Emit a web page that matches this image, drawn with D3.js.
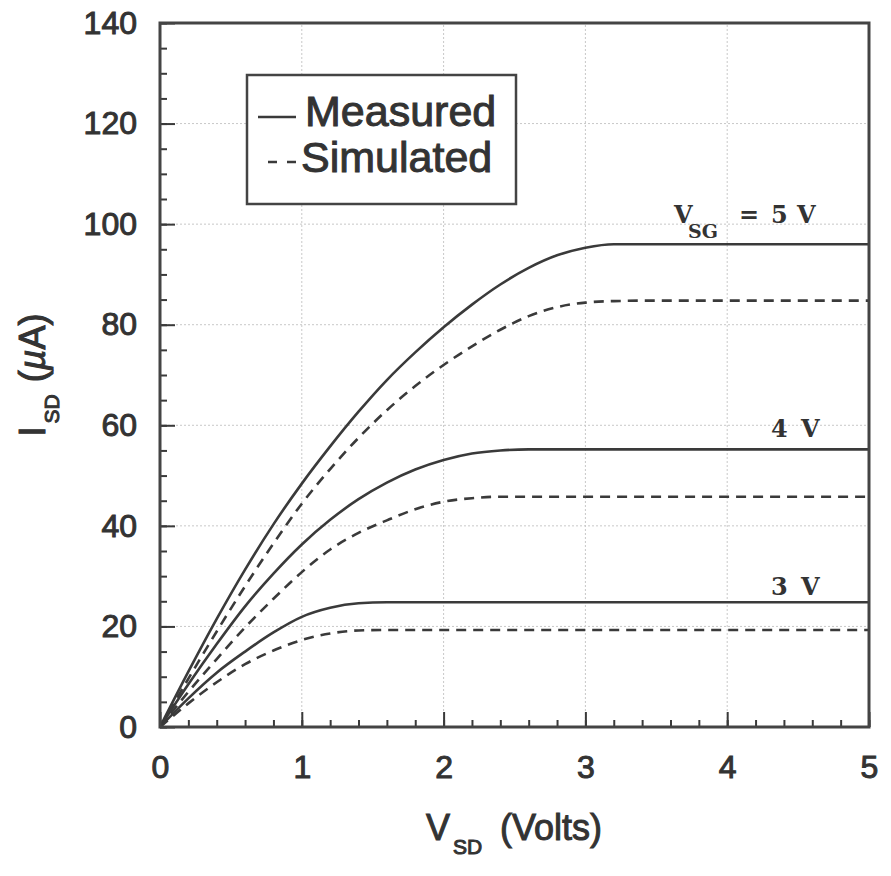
<!DOCTYPE html>
<html>
<head>
<meta charset="utf-8">
<script src="https://cdn.jsdelivr.net/npm/d3@7"></script>
<style>
  body { margin: 0; background: #fff; }
  svg { display: block; }
</style>
</head>
<body>
<svg id="chart"></svg>
<script>
  // Drain voltage samples (Volts)
  var vsd = [0, 0.2, 0.4, 0.6, 0.8, 1.0, 1.2, 1.4, 1.6, 1.8, 2.0, 2.2, 2.4, 2.6, 2.8, 3.0, 3.2, 3.5, 4, 4.5, 5];

  // Currents in uA
  var measured5 = [0, 11, 21.5, 31.3, 40.3, 48.4, 55.8, 62.7, 69, 74.5, 79.5, 84, 88, 91.3, 93.8, 95.3, 96, 96, 96, 96, 96];
  var simulated5 = [0, 9.6, 19, 28, 36.5, 44.4, 51.3, 57.5, 63, 67.8, 72, 75.7, 79, 81.7, 83.5, 84.4, 84.7, 84.8, 84.8, 84.8, 84.8];
  var measured4 = [0, 8.5, 16.5, 24, 30.5, 36.3, 41.2, 45.3, 48.6, 51.2, 53.1, 54.4, 55, 55.2, 55.2, 55.2, 55.2, 55.2, 55.2, 55.2, 55.2];
  var simulated4 = [0, 7, 13.5, 19.8, 25.5, 30.8, 35.3, 38.6, 41.1, 43.3, 44.8, 45.5, 45.8, 45.8, 45.8, 45.8, 45.8, 45.8, 45.8, 45.8, 45.8];
  var measured3 = [0, 5.7, 10.8, 15, 18.8, 21.9, 23.7, 24.6, 24.8, 24.8, 24.8, 24.8, 24.8, 24.8, 24.8, 24.8, 24.8, 24.8, 24.8, 24.8, 24.8];
  var simulated3 = [0, 4.7, 8.9, 12.5, 15.2, 17.3, 18.6, 19.2, 19.3, 19.3, 19.3, 19.3, 19.3, 19.3, 19.3, 19.3, 19.3, 19.3, 19.3, 19.3, 19.3];

  var xTicks = [0, 1, 2, 3, 4, 5];
  var yTicks = [0, 20, 40, 60, 80, 100, 120, 140];
  var legendLabels = ["Measured", "Simulated"];

  var W = 891, H = 876;
  var ink = "#3a3a3a";
  var sans = "'Liberation Sans', Arial, sans-serif";
  var serif = "'DejaVu Serif', serif";

  var svg = d3.select("#chart").attr("width", W).attr("height", H);

  var x = d3.scaleLinear().domain([0, 5]).range([160, 869]);
  var y = d3.scaleLinear().domain([0, 140]).range([727, 23]);

  // Gridlines (faint dotted)
  svg.append("g")
    .selectAll("line")
    .data(xTicks.slice(1, -1))
    .enter()
    .append("line")
    .attr("x1", function(d) { return x(d); })
    .attr("x2", function(d) { return x(d); })
    .attr("y1", y(0))
    .attr("y2", y(140))
    .attr("stroke", "#c8c8c8")
    .attr("stroke-width", 1)
    .attr("stroke-dasharray", "2,2");

  svg.append("g")
    .selectAll("line")
    .data(yTicks.slice(1, -1))
    .enter()
    .append("line")
    .attr("x1", x(0))
    .attr("x2", x(5))
    .attr("y1", function(d) { return y(d); })
    .attr("y2", function(d) { return y(d); })
    .attr("stroke", "#c8c8c8")
    .attr("stroke-width", 1)
    .attr("stroke-dasharray", "2,2");

  // Curves
  var series = [
    { v: measured5, dash: null },
    { v: simulated5, dash: "10,7" },
    { v: measured4, dash: null },
    { v: simulated4, dash: "10,7" },
    { v: measured3, dash: null },
    { v: simulated3, dash: "10,7" }
  ];

  var line = d3.line()
    .x(function(d, i) { return x(vsd[i]); })
    .y(function(d) { return y(d); })
    .curve(d3.curveMonotoneX);

  svg.append("g")
    .selectAll("path")
    .data(series)
    .enter()
    .append("path")
    .attr("d", function(s) { return line(s.v); })
    .attr("fill", "none")
    .attr("stroke", ink)
    .attr("stroke-width", 2.6)
    .attr("stroke-dasharray", function(s) { return s.dash; });

  // Minor ticks
  svg.append("g")
    .attr("transform", "translate(" + x(0) + ",0)")
    .call(d3.axisLeft(y).tickValues(d3.range(0, 141, 5)).tickSize(-7).tickFormat("").tickSizeOuter(0))
    .call(function(g) { g.select(".domain").remove(); });

  svg.append("g")
    .attr("transform", "translate(0," + y(0) + ")")
    .call(d3.axisBottom(x).tickValues(d3.range(0, 5.01, 0.2)).tickSize(-7).tickFormat("").tickSizeOuter(0))
    .call(function(g) { g.select(".domain").remove(); });

  // Major axes with labels
  var yAxis = svg.append("g")
    .attr("transform", "translate(" + x(0) + ",0)")
    .call(d3.axisLeft(y).tickValues(yTicks).tickSize(-15).tickPadding(23).tickSizeOuter(0));

  var xAxis = svg.append("g")
    .attr("transform", "translate(0," + y(0) + ")")
    .call(d3.axisBottom(x).tickValues(xTicks).tickFormat(d3.format("d")).tickSize(-15).tickPadding(28).tickSizeOuter(0));

  svg.selectAll(".tick line").attr("stroke", ink).attr("stroke-width", 2);
  [yAxis, xAxis].forEach(function(g) {
    g.select(".domain").remove();
    g.selectAll("text")
      .style("font-family", sans)
      .style("font-size", "32px")
      .attr("fill", "#333")
      .attr("stroke", "#333")
      .attr("stroke-width", 1);
  });

  // Frame
  svg.append("rect")
    .attr("x", x(0))
    .attr("y", y(140))
    .attr("width", x(5) - x(0))
    .attr("height", y(0) - y(140))
    .attr("fill", "none")
    .attr("stroke", "#444")
    .attr("stroke-width", 3);

  // Legend
  var legend = svg.append("g");
  legend.append("rect")
    .attr("x", 247).attr("y", 75)
    .attr("width", 269).attr("height", 129)
    .attr("fill", "#fff")
    .attr("stroke", "#444")
    .attr("stroke-width", 2.5);

  legend.append("line")
    .attr("x1", 258).attr("x2", 296).attr("y1", 117).attr("y2", 117)
    .attr("stroke", ink).attr("stroke-width", 2.6);
  legend.append("line")
    .attr("x1", 268).attr("x2", 296).attr("y1", 162).attr("y2", 162)
    .attr("stroke", ink).attr("stroke-width", 2.6)
    .attr("stroke-dasharray", "9,10");

  legend.selectAll("text")
    .data(legendLabels)
    .enter()
    .append("text")
    .attr("x", function(d, i) { return i === 0 ? 305 : 301; })
    .attr("y", function(d, i) { return i === 0 ? 126 : 172; })
    .style("font-family", sans)
    .style("font-size", "43px")
    .attr("fill", "#333")
    .attr("stroke", "#333")
    .attr("stroke-width", 1)
    .text(function(d) { return d; });

  // Curve labels
  var lab5 = svg.append("text")
    .attr("y", y(96) - 21)
    .style("font-family", serif)
    .style("font-weight", "bold")
    .style("font-size", "24px")
    .attr("fill", "#333");
  lab5.append("tspan").attr("x", 674).text("V");
  lab5.append("tspan").attr("x", 688).attr("dy", 15).style("font-size", "19px").text("SG");
  lab5.append("tspan").attr("x", 739).attr("dy", -15).text("=");
  lab5.append("tspan").attr("x", 771).text("5");
  lab5.append("tspan").attr("x", 797).text("V");

  var smallLabels = [
    { t: "4", v: 55.2, off: 12 },
    { t: "3", v: 24.8, off: 7 }
  ];
  smallLabels.forEach(function(l) {
    var t = svg.append("text")
      .attr("y", y(l.v) - l.off)
      .style("font-family", serif)
      .style("font-weight", "bold")
      .style("font-size", "24px")
      .attr("fill", "#333");
    t.append("tspan").attr("x", 771).text(l.t);
    t.append("tspan").attr("x", 801).text("V");
  });

  // Axis titles
  var xt = svg.append("text")
    .attr("x", 514)
    .attr("y", 840)
    .attr("text-anchor", "middle")
    .style("font-family", sans)
    .style("font-size", "36px")
    .attr("fill", "#333")
    .attr("stroke", "#333")
    .attr("stroke-width", 1);
  xt.append("tspan").text("V");
  xt.append("tspan").attr("dy", 14).attr("dx", 3).style("font-size", "21px").text("SD");
  xt.append("tspan").attr("dy", -14).attr("dx", 18).text("(Volts)");

  var yt = svg.append("text")
    .attr("transform", "translate(45,375) rotate(-90)")
    .attr("text-anchor", "middle")
    .style("font-family", sans)
    .style("font-size", "36px")
    .attr("fill", "#333")
    .attr("stroke", "#333")
    .attr("stroke-width", 1);
  yt.append("tspan").text("I");
  yt.append("tspan").attr("dy", 14).attr("dx", 3).style("font-size", "21px").text("SD");
  yt.append("tspan").attr("dy", -14).attr("dx", 12).text("(");
  yt.append("tspan").style("font-style", "italic").text("\u00b5");
  yt.append("tspan").text("A)");
</script>
</body>
</html>
